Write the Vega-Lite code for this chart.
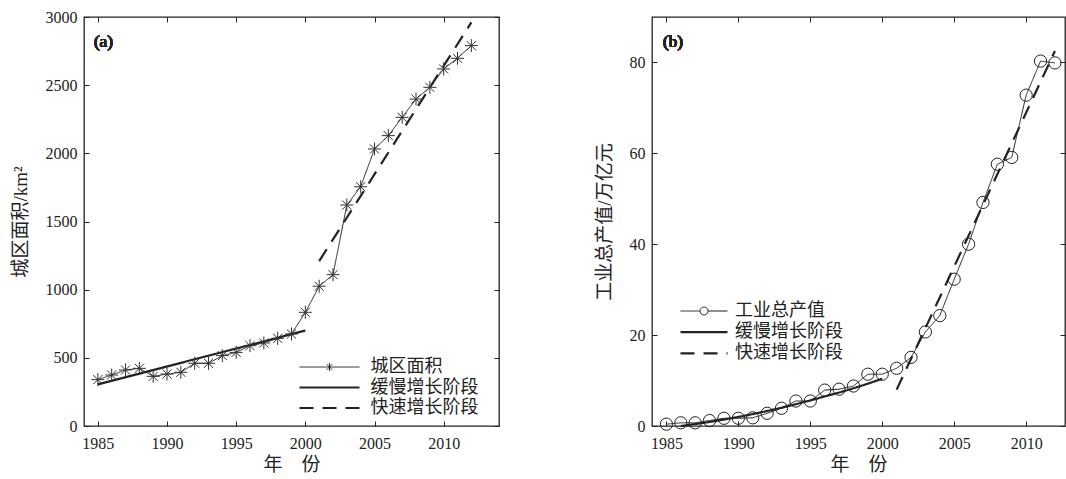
{
  "$schema": "https://vega.github.io/schema/vega-lite/v6.json",
  "background": "white",
  "padding": {"left": 10, "top": 8, "right": 0, "bottom": 0},
  "spacing": 93,
  "resolve": {"scale": {"strokeDash": "independent"}, "legend": {"strokeDash": "independent"}},
  "config": {
    "font": "Liberation Serif, Times New Roman, DejaVu Serif, serif",
    "view": {"stroke": "#222", "strokeWidth": 1.3},
    "axis": {
      "domain": false, "grid": false, "tickColor": "#222", "tickSize": -5, "tickWidth": 1,
      "labelFont": "Liberation Serif, Times New Roman, DejaVu Serif, serif", "labelFontSize": 16, "labelColor": "#222",
      "titleFont": "Liberation Serif, Times New Roman, Noto Sans CJK SC, serif", "titleFontSize": 19, "titleFontWeight": "normal", "titleColor": "#222"
    },
    "legend": {
      "orient": "none", "padding": 0, "title": null,
      "labelFont": "Noto Sans CJK SC", "labelFontSize": 18, "labelColor": "#222",
      "symbolStrokeColor": "#222", "symbolFillColor": "transparent"
    }
  },
  "datasets": {
    "a": [
      {"series": "城区面积", "year": 1985, "value": 340},
      {"series": "城区面积", "year": 1986, "value": 374},
      {"series": "城区面积", "year": 1987, "value": 411},
      {"series": "城区面积", "year": 1988, "value": 423},
      {"series": "城区面积", "year": 1989, "value": 364},
      {"series": "城区面积", "year": 1990, "value": 381},
      {"series": "城区面积", "year": 1991, "value": 394},
      {"series": "城区面积", "year": 1992, "value": 460},
      {"series": "城区面积", "year": 1993, "value": 460},
      {"series": "城区面积", "year": 1994, "value": 516},
      {"series": "城区面积", "year": 1995, "value": 540},
      {"series": "城区面积", "year": 1996, "value": 589},
      {"series": "城区面积", "year": 1997, "value": 609},
      {"series": "城区面积", "year": 1998, "value": 643},
      {"series": "城区面积", "year": 1999, "value": 675},
      {"series": "城区面积", "year": 2000, "value": 834},
      {"series": "城区面积", "year": 2001, "value": 1025},
      {"series": "城区面积", "year": 2002, "value": 1110},
      {"series": "城区面积", "year": 2003, "value": 1621},
      {"series": "城区面积", "year": 2004, "value": 1755},
      {"series": "城区面积", "year": 2005, "value": 2032},
      {"series": "城区面积", "year": 2006, "value": 2130},
      {"series": "城区面积", "year": 2007, "value": 2264},
      {"series": "城区面积", "year": 2008, "value": 2398},
      {"series": "城区面积", "year": 2009, "value": 2484},
      {"series": "城区面积", "year": 2010, "value": 2619},
      {"series": "城区面积", "year": 2011, "value": 2697},
      {"series": "城区面积", "year": 2012, "value": 2790},
      {"series": "缓慢增长阶段", "year": 1985, "value": 305},
      {"series": "缓慢增长阶段", "year": 2000, "value": 700},
      {"series": "快速增长阶段", "year": 2001, "value": 1210},
      {"series": "快速增长阶段", "year": 2012, "value": 2960}
    ],
    "b": [
      {"series": "工业总产值", "year": 1985, "value": 0.4},
      {"series": "工业总产值", "year": 1986, "value": 0.7},
      {"series": "工业总产值", "year": 1987, "value": 0.7},
      {"series": "工业总产值", "year": 1988, "value": 1.2},
      {"series": "工业总产值", "year": 1989, "value": 1.7},
      {"series": "工业总产值", "year": 1990, "value": 1.7},
      {"series": "工业总产值", "year": 1991, "value": 1.8},
      {"series": "工业总产值", "year": 1992, "value": 2.8},
      {"series": "工业总产值", "year": 1993, "value": 3.9},
      {"series": "工业总产值", "year": 1994, "value": 5.5},
      {"series": "工业总产值", "year": 1995, "value": 5.5},
      {"series": "工业总产值", "year": 1996, "value": 7.9},
      {"series": "工业总产值", "year": 1997, "value": 8.1},
      {"series": "工业总产值", "year": 1998, "value": 8.8},
      {"series": "工业总产值", "year": 1999, "value": 11.4},
      {"series": "工业总产值", "year": 2000, "value": 11.4},
      {"series": "工业总产值", "year": 2001, "value": 12.7},
      {"series": "工业总产值", "year": 2002, "value": 15.1},
      {"series": "工业总产值", "year": 2003, "value": 20.7},
      {"series": "工业总产值", "year": 2004, "value": 24.3},
      {"series": "工业总产值", "year": 2005, "value": 32.3},
      {"series": "工业总产值", "year": 2006, "value": 40.0},
      {"series": "工业总产值", "year": 2007, "value": 49.2},
      {"series": "工业总产值", "year": 2008, "value": 57.6},
      {"series": "工业总产值", "year": 2009, "value": 59.1},
      {"series": "工业总产值", "year": 2010, "value": 72.8},
      {"series": "工业总产值", "year": 2011, "value": 80.3},
      {"series": "工业总产值", "year": 2012, "value": 79.9},
      {"series": "缓慢增长阶段", "year": 1986, "value": 0},
      {"series": "缓慢增长阶段", "year": 1988, "value": 0.9},
      {"series": "缓慢增长阶段", "year": 1990, "value": 2.0},
      {"series": "缓慢增长阶段", "year": 1992, "value": 3.3},
      {"series": "缓慢增长阶段", "year": 1994, "value": 4.8},
      {"series": "缓慢增长阶段", "year": 1996, "value": 6.5},
      {"series": "缓慢增长阶段", "year": 1998, "value": 8.3},
      {"series": "缓慢增长阶段", "year": 2000, "value": 10.4},
      {"series": "快速增长阶段", "year": 2001, "value": 8},
      {"series": "快速增长阶段", "year": 2012, "value": 82.5}
    ]
  },
  "hconcat": [
    {
      "width": 415, "height": 409,
      "data": {"name": "a"},
      "resolve": {"axis": {"x": "independent", "y": "independent"}},
      "layer": [
        {
          "transform": [{"filter": "datum.series === '城区面积'"}],
          "mark": {"type": "line", "color": "#222", "strokeWidth": 1},
          "encoding": {
            "x": {"field": "year", "type": "quantitative", "scale": {"domain": [1984, 2014], "nice": false, "zero": false},
                  "axis": {"orient": "bottom", "values": [1985, 1990, 1995, 2000, 2005, 2010], "format": "d", "labelPadding": 14, "title": "年　份", "titlePadding": 4}},
            "y": {"field": "value", "type": "quantitative", "scale": {"domain": [0, 3000], "nice": false},
                  "axis": {"orient": "left", "values": [0, 500, 1000, 1500, 2000, 2500, 3000], "format": "d", "labelPadding": 12, "title": "城区面积/km²", "titlePadding": 15}},
            "strokeDash": {"field": "series", "type": "nominal",
              "scale": {"domain": ["城区面积", "缓慢增长阶段", "快速增长阶段"], "range": [[1, 0], [1, 0], [14, 9]]},
              "legend": {"legendX": 215, "legendY": 341, "symbolSize": 3600, "symbolOffset": 21.5, "labelOffset": 32, "rowPadding": 2.5,
                "encode": {"symbols": {"update": {
                  "size": {"value": 3600},
                  "shape": {"signal": "datum.value === '城区面积' ? 'M-1,0H1M0,-0.133V0.133M-0.094,-0.094L0.094,0.094M-0.094,0.094L0.094,-0.094' : 'M-1,0H1'"},
                  "strokeWidth": {"signal": "datum.value === '城区面积' ? 1 : 2.2"}}}}}}
          }
        },
        {
          "transform": [{"filter": "datum.series !== '城区面积'"}],
          "mark": {"type": "line", "color": "#222", "strokeWidth": 2.2},
          "encoding": {
            "x": {"field": "year", "type": "quantitative", "axis": null},
            "y": {"field": "value", "type": "quantitative", "axis": null},
            "strokeDash": {"field": "series", "type": "nominal"}
          }
        },
        {
          "transform": [{"filter": "datum.series === '城区面积'"}],
          "mark": {"type": "point", "shape": "M-1,0H1M0,-1V1M-0.7,-0.7L0.7,0.7M-0.7,0.7L0.7,-0.7", "size": 169, "filled": false, "stroke": "#333", "strokeWidth": 1, "opacity": 1},
          "encoding": {
            "x": {"field": "year", "type": "quantitative", "axis": {"orient": "top", "values": [1985, 1990, 1995, 2000, 2005, 2010], "labels": false, "title": null}},
            "y": {"field": "value", "type": "quantitative", "axis": {"orient": "right", "values": [0, 500, 1000, 1500, 2000, 2500, 3000], "labels": false, "title": null}}
          }
        },
        {
          "mark": {"type": "text", "align": "left", "baseline": "middle", "fontSize": 17, "font": "Liberation Serif, Times New Roman, serif", "fontWeight": "normal", "color": "#222"},
          "encoding": {
            "x": {"datum": 1984.72, "type": "quantitative", "axis": null},
            "y": {"datum": 2817, "type": "quantitative", "axis": null},
            "text": {"value": "(a)"}
          }
        }
      ]
    },
    {
      "width": 413, "height": 409,
      "data": {"name": "b"},
      "resolve": {"axis": {"x": "independent", "y": "independent"}},
      "layer": [
        {
          "transform": [{"filter": "datum.series === '工业总产值'"}],
          "mark": {"type": "line", "color": "#222", "strokeWidth": 1},
          "encoding": {
            "x": {"field": "year", "type": "quantitative", "scale": {"domain": [1984, 2012.7], "nice": false, "zero": false},
                  "axis": {"orient": "bottom", "values": [1985, 1990, 1995, 2000, 2005, 2010], "format": "d", "labelPadding": 14, "title": "年　份", "titlePadding": 4}},
            "y": {"field": "value", "type": "quantitative", "scale": {"domain": [0, 90], "nice": false},
                  "axis": {"orient": "left", "values": [0, 20, 40, 60, 80], "labelPadding": 12, "title": "工业总产值/万亿元", "titlePadding": 15}},
            "strokeDash": {"field": "series", "type": "nominal",
              "scale": {"domain": ["工业总产值", "缓慢增长阶段", "快速增长阶段"], "range": [[1, 0], [1, 0], [14, 9]]},
              "legend": {"legendX": 28, "legendY": 285, "symbolSize": 2209, "symbolOffset": 15, "labelOffset": 22, "rowPadding": 3.2,
                "encode": {"symbols": {"update": {
                  "size": {"value": 2209},
                  "shape": {"signal": "datum.value === '工业总产值' ? 'M-1,0H-0.17M0.17,0H1M-0.17,0A0.17,0.17 0 1 0 0.17,0A0.17,0.17 0 1 0 -0.17,0' : 'M-1,0H1'"},
                  "strokeWidth": {"signal": "datum.value === '工业总产值' ? 1 : 2.2"}}}}}}
          }
        },
        {
          "transform": [{"filter": "datum.series !== '工业总产值'"}],
          "mark": {"type": "line", "color": "#222", "strokeWidth": 2.2, "interpolate": "monotone"},
          "encoding": {
            "x": {"field": "year", "type": "quantitative", "axis": null},
            "y": {"field": "value", "type": "quantitative", "axis": null},
            "strokeDash": {"field": "series", "type": "nominal"}
          }
        },
        {
          "transform": [{"filter": "datum.series === '工业总产值'"}],
          "mark": {"type": "point", "shape": "circle", "size": 150, "filled": false, "stroke": "#222", "strokeWidth": 1, "opacity": 1},
          "encoding": {
            "x": {"field": "year", "type": "quantitative", "axis": {"orient": "top", "values": [1985, 1990, 1995, 2000, 2005, 2010], "labels": false, "title": null}},
            "y": {"field": "value", "type": "quantitative", "axis": {"orient": "right", "values": [0, 20, 40, 60, 80], "labels": false, "title": null}}
          }
        },
        {
          "mark": {"type": "text", "align": "left", "baseline": "middle", "fontSize": 17, "font": "Liberation Serif, Times New Roman, serif", "fontWeight": "normal", "color": "#222"},
          "encoding": {
            "x": {"datum": 1984.77, "type": "quantitative", "axis": null},
            "y": {"datum": 84.5, "type": "quantitative", "axis": null},
            "text": {"value": "(b)"}
          }
        }
      ]
    }
  ]
}
